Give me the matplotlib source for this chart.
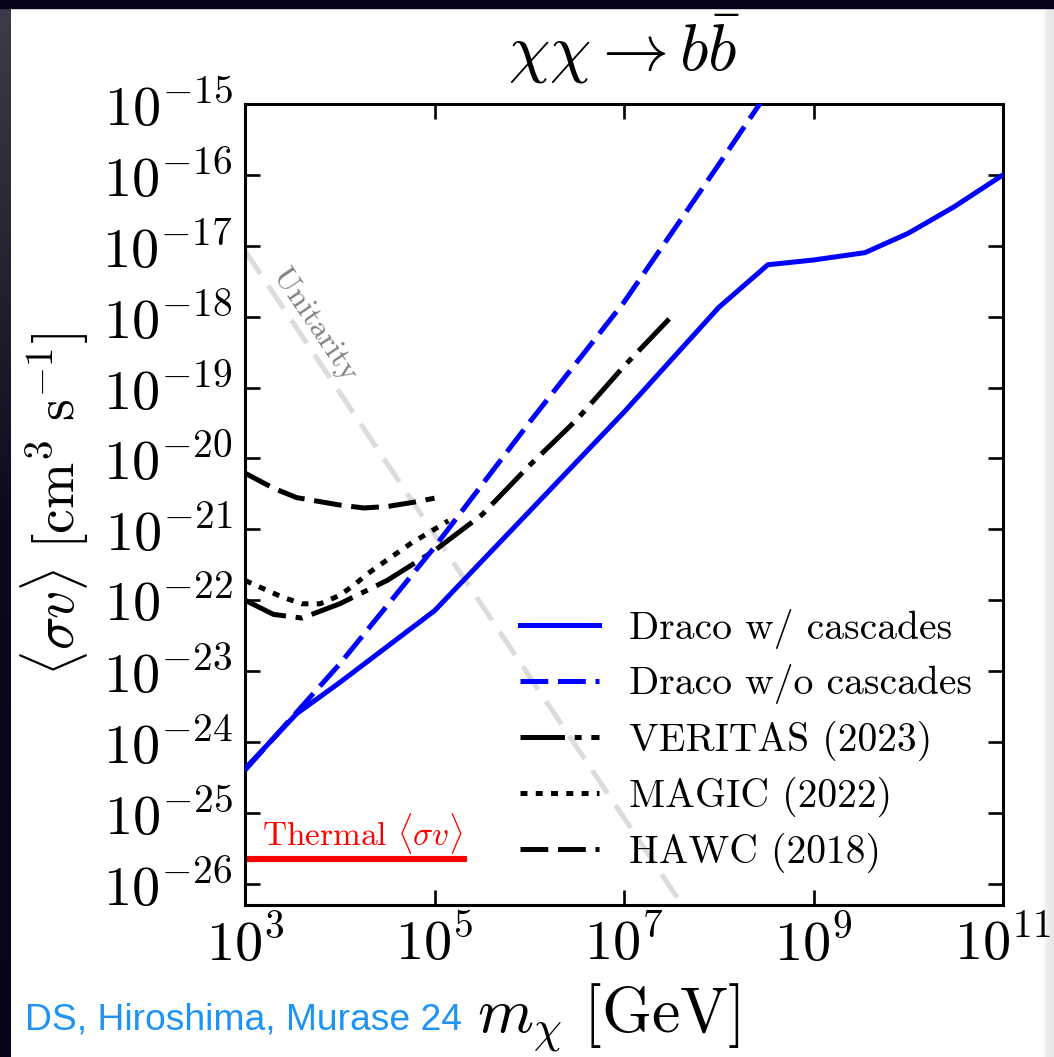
import numpy as np
import matplotlib
matplotlib.use("Agg")
import matplotlib.pyplot as plt

# ---------------- data ----------------
x_ticks = [1e3, 1e5, 1e7, 1e9, 1e11]
y_ticks = [1e-26, 1e-25, 1e-24, 1e-23, 1e-22, 1e-21, 1e-20, 1e-19, 1e-18, 1e-17, 1e-16, 1e-15]

draco_cascade_mass = [1e3, 3.5e3, 1e4, 1e5, 1e6, 1e7, 1e8, 3.3e8, 1e9, 3.5e9, 1e10, 3e10, 1e11]
draco_cascade_sv = [4.2e-25, 2.5e-24, 6.9e-24, 7.1e-23, 1.78e-21, 4.5e-20, 1.35e-18,
                    5.4e-18, 6.3e-18, 8.0e-18, 1.5e-17, 3.5e-17, 1.0e-16]

draco_nocascade_mass = [1e3, 1e4, 1e5, 1e6, 1e7, 1e8, 3e8]
draco_nocascade_sv = [4.0e-25, 1.26e-23, 5.6e-22, 3.2e-20, 1.6e-18, 1.4e-16, 1.23e-15]

veritas_mass = [1e3, 2e3, 4e3, 1e4, 3.16e4, 1e5, 3.16e5, 1e6, 3.16e6, 1e7, 3.16e7]
veritas_sv = [1.0e-22, 6.3e-23, 5.6e-23, 8.9e-23, 1.9e-22, 5.0e-22, 1.6e-21,
              7.9e-21, 3.5e-20, 2.0e-19, 1.0e-18]

magic_mass = [1e3, 1.7e3, 2.5e3, 4e3, 6.2e3, 1e4, 1.4e4, 2e4, 2.8e4, 4e4, 5.8e4, 8.9e4, 1.4e5]
magic_sv = [1.9e-22, 1.38e-22, 1.1e-22, 8.9e-23, 8.9e-23, 1.17e-22, 1.62e-22,
            2.4e-22, 3.3e-22, 4.6e-22, 6.5e-22, 9.1e-22, 1.32e-21]

hawc_mass = [1e3, 2e3, 3.5e3, 1e4, 1.8e4, 3.2e4, 5.9e4, 1e5]
hawc_sv = [6.2e-21, 3.8e-21, 2.8e-21, 2.2e-21, 2.0e-21, 2.1e-21, 2.4e-21, 2.75e-21]

unitarity_mass = [1e3, 1e8]
unitarity_sv = [8.5e-18, 8.5e-28]

thermal_mass = [1e3, 2.2e5]
thermal_sv = [2.2e-26, 2.2e-26]

labels = ["Draco w/ cascades", "Draco w/o cascades", "VERITAS (2023)",
          "MAGIC (2022)", "HAWC (2018)"]

# ---------------- style ----------------
plt.rcParams.update({
    "font.family": "serif",
    "font.serif": ["cmr10"],
    "mathtext.fontset": "cm",
    "axes.unicode_minus": False,
    "axes.formatter.use_mathtext": True,
    "lines.scale_dashes": False,
})

W, H = 1054, 1057
fig = plt.figure(figsize=(W / 100, H / 100), dpi=100, facecolor="white")

# dark frame along the top and left edges, faint shade on the right
strip = fig.add_axes([0, 0, 11 / W, 1], zorder=-5)
grad = np.linspace(0, 1, 256)[:, None]
strip.imshow(grad, aspect="auto", extent=[0, 1, 0, 1],
             cmap=matplotlib.colors.LinearSegmentedColormap.from_list(
                 "edge", ["#3d3c4a", "#0b0a1c", "#05041a"]))
strip.set_axis_off()
fig.patches.append(plt.Rectangle((0, 1 - 8 / H), 1, 8 / H, transform=fig.transFigure,
                                 color="#05041a", zorder=-4))
rstrip = fig.add_axes([1042 / W, 0, 12 / W, 1 - 8 / H], zorder=-5)
rstrip.imshow(np.linspace(0, 1, 64)[None, :], aspect="auto",
              cmap=matplotlib.colors.LinearSegmentedColormap.from_list(
                  "rs", ["#ffffff", "#ececec", "#e6e6e6"]))
rstrip.set_axis_off()

ax = fig.add_axes([245 / W, 1 - 905 / H, (1003 - 245) / W, (905 - 104) / H])
ax.set_xscale("log")
ax.set_yscale("log")
ax.set_xlim(1e3, 1e11)
ax.set_ylim(10 ** -26.3, 1e-15)

lw = 3.6
ax.plot(unitarity_mass, unitarity_sv, color="#dcdcdc", lw=lw, dashes=(20, 10), zorder=1)
ax.plot(thermal_mass, thermal_sv, color="red", lw=4.4, solid_capstyle="butt", zorder=2)

l1, = ax.plot(draco_cascade_mass, draco_cascade_sv, color="blue", lw=lw, label=labels[0], zorder=4)
l2, = ax.plot(draco_nocascade_mass, draco_nocascade_sv, color="blue", lw=lw,
              dashes=(20, 7), label=labels[1], zorder=4)
l3, = ax.plot(veritas_mass, veritas_sv, color="black", lw=lw,
              dashes=(32, 7, 5, 7), label=labels[2], zorder=3)
l4, = ax.plot(magic_mass, magic_sv, color="black", lw=lw,
              dashes=(5, 6), label=labels[3], zorder=3)
l5, = ax.plot(hawc_mass, hawc_sv, color="black", lw=lw,
              dashes=(20, 7), label=labels[4], zorder=3)

ax.text(5.5e3, 7.6e-19, "Unitarity", color="#808080", fontsize=23,
        rotation=-56, ha="center", va="center", rotation_mode="anchor")
ax.text(1.5e3, 3.4e-26, r"Thermal $\langle\sigma v\rangle$", color="red",
        fontsize=24, ha="left", va="baseline")

ax.set_xticks(x_ticks)
ax.set_yticks(y_ticks)
ax.minorticks_off()
ax.tick_params(which="major", direction="in", length=11, width=1.9,
               top=True, right=True, labelsize=40.5)
ax.tick_params(axis="x", pad=8)
ax.tick_params(axis="y", pad=9)
for s in ax.spines.values():
    s.set_linewidth(2.2)

ax.set_title(r"$\chi\chi \rightarrow b\bar{b}$", fontsize=47.5, pad=24)
ax.set_xlabel(r"$m_\chi\ [\mathrm{GeV}]$", fontsize=46, labelpad=6)
ax.xaxis.set_label_coords(0.48, -0.095)
ax.set_ylabel(r"$\langle\sigma v\rangle\ [\mathrm{cm}^3\ \mathrm{s}^{-1}]$",
              fontsize=40, labelpad=8)

ax.legend(handles=[l1, l2, l3, l4, l5], loc="upper left",
          bbox_to_anchor=(0.363, 0.370), frameon=False, fontsize=28.5,
          handlelength=2.0, handletextpad=0.75, labelspacing=0.40,
          borderpad=0, borderaxespad=0)

fig.text(25 / W, 1 - 1020 / H, "DS, Hiroshima, Murase 24", color="#1f93f5",
         fontsize=26.8, family=["Liberation Sans Narrow", "Liberation Sans"],
         ha="left", va="center")

fig.savefig("out.png", dpi=100, facecolor=fig.get_facecolor())
